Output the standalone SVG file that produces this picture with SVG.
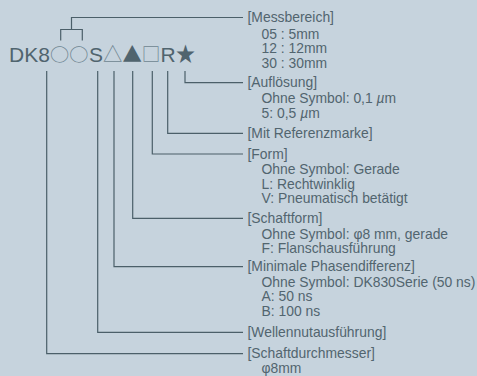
<svg xmlns="http://www.w3.org/2000/svg" width="477" height="376" viewBox="0 0 477 376">
<style>
.bg{fill:#c6d3dd}
.c{fill:none;stroke:#4b5f69;stroke-width:1.2}
.t{font-family:"Liberation Sans",Arial,sans-serif;font-size:13.9px;fill:#52656f}
.code{font-family:"Liberation Sans",Arial,sans-serif;font-size:21px;fill:#50646e}
.sym{font-family:"Noto Sans CJK JP",sans-serif}
.hollow{fill:#6e8591}
</style>
<rect class="bg" x="0" y="0" width="477" height="376"/>
<g id="code">
<text class="code"><tspan x="9" y="61.5">DK8</tspan><tspan class="sym hollow" x="50" y="60.7" font-size="17.6" textLength="19.2" lengthAdjust="spacingAndGlyphs">○</tspan><tspan class="sym hollow" x="69.2" y="60.7" font-size="17.6" textLength="19.2" lengthAdjust="spacingAndGlyphs">○</tspan><tspan x="89" y="61.5">S</tspan><tspan class="sym hollow" x="103" y="61.8" font-size="20.5" textLength="19.4" lengthAdjust="spacingAndGlyphs">△</tspan><tspan class="sym" x="122.4" y="61.8" font-size="20.5" textLength="19.4" lengthAdjust="spacingAndGlyphs">▲</tspan><tspan class="sym hollow" x="141.8" y="60.8" font-size="18" textLength="18.6" lengthAdjust="spacingAndGlyphs">□</tspan><tspan x="160.5" y="61.5">R</tspan><tspan class="sym" x="175.8" y="61.3" font-size="21" textLength="19.5" lengthAdjust="spacingAndGlyphs">★</tspan></text>
</g>
<g id="connectors">
<path class="c" d="M60.7,40.5V29.5H82.3V40.5"/>
<path class="c" d="M71.5,29.5V17.5H243"/>
<path class="c" d="M185,71V82.7H243"/>
<path class="c" d="M167.7,71V133.3H243"/>
<path class="c" d="M152.3,71V154H243"/>
<path class="c" d="M132.7,71V218.3H243"/>
<path class="c" d="M114,71V266.7H243"/>
<path class="c" d="M97.7,71V332.3H243"/>
<path class="c" d="M46.7,71V353.7H243"/>
</g>
<g id="messbereich">
<text class="t" x="247.5" y="22">[Messbereich]</text>
<text class="t" x="261.5" y="38.5">05 : 5mm</text>
<text class="t" x="261.5" y="53">12 : 12mm</text>
<text class="t" x="261.5" y="67.5">30 : 30mm</text>
</g>
<g id="aufloesung">
<text class="t" x="247.5" y="87">[Auflösung]</text>
<text class="t" x="261.5" y="103">Ohne Symbol: 0,1 <tspan font-style="italic">µ</tspan>m</text>
<text class="t" x="261.5" y="118">5: 0,5 <tspan font-style="italic">µ</tspan>m</text>
</g>
<g id="referenzmarke">
<text class="t" x="247.5" y="138">[Mit Referenzmarke]</text>
</g>
<g id="form">
<text class="t" x="247.5" y="158.5">[Form]</text>
<text class="t" x="261.5" y="174">Ohne Symbol: Gerade</text>
<text class="t" x="261.5" y="188.5">L: Rechtwinklig</text>
<text class="t" x="261.5" y="203">V: Pneumatisch betätigt</text>
</g>
<g id="schaftform">
<text class="t" x="247.5" y="223">[Schaftform]</text>
<text class="t" x="261.5" y="238.5">Ohne Symbol: φ8 mm, gerade</text>
<text class="t" x="261.5" y="253">F: Flanschausführung</text>
</g>
<g id="phasendifferenz">
<text class="t" x="247.5" y="271">[Minimale Phasendifferenz]</text>
<text class="t" x="261.5" y="286.5">Ohne Symbol: DK830Serie (50 ns)</text>
<text class="t" x="261.5" y="301">A: 50 ns</text>
<text class="t" x="261.5" y="315.5">B: 100 ns</text>
</g>
<g id="wellennut">
<text class="t" x="247.5" y="337">[Wellennutausführung]</text>
</g>
<g id="schaftdurchmesser">
<text class="t" x="247.5" y="358">[Schaftdurchmesser]</text>
<text class="t" x="261.5" y="372.5">φ8mm</text>
</g>
</svg>
